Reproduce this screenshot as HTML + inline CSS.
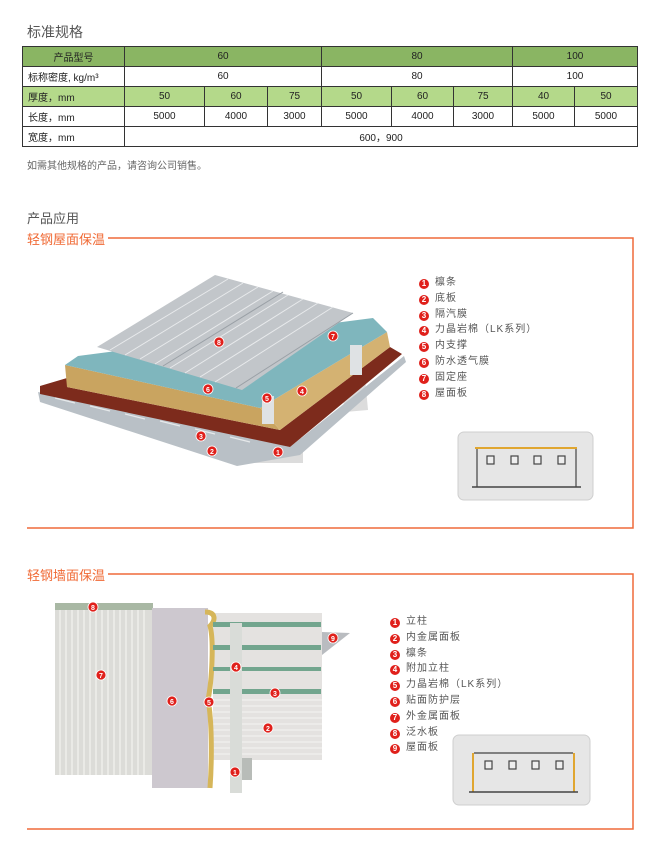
<!DOCTYPE html>
<html><head><meta charset="utf-8"><style>
body{margin:0;background:#fff;width:650px;height:846px;position:relative;overflow:hidden;font-family:"Liberation Sans","Noto Sans CJK SC",sans-serif;color:#555}
.a{position:absolute;white-space:nowrap}
table{position:absolute;left:22px;top:46px;border-collapse:collapse;font-size:10px;color:#222}
td{border:1px solid #333;height:19px;padding:0;text-align:center}
.g1 td{background:#8ab563}
.g2 td{background:#b4d98a}
td.l{text-align:left;padding-left:5px}
.leg{position:absolute;font-size:10px;color:#555;letter-spacing:1px;line-height:16px}
.leg div{height:15.8px}
.n{display:inline-block;width:10px;height:10px;border-radius:50%;background:#e0201b;color:#fff;font-size:8px;font-weight:bold;line-height:10px;text-align:center;letter-spacing:0;margin-right:6px;vertical-align:-1px}
</style></head><body>
<div class="a" style="left:27px;top:22px;font-size:14px;color:#555">标准规格</div>
<table>
<colgroup><col style="width:102px"><col style="width:80px"><col style="width:63px"><col style="width:54px"><col style="width:70px"><col style="width:62px"><col style="width:59px"><col style="width:62px"><col style="width:63px"></colgroup>
<tr class="g1"><td>产品型号</td><td colspan="3">60</td><td colspan="3">80</td><td colspan="2">100</td></tr>
<tr><td class="l">标称密度, kg/m³</td><td colspan="3">60</td><td colspan="3">80</td><td colspan="2">100</td></tr>
<tr class="g2"><td class="l">厚度，mm</td><td>50</td><td>60</td><td>75</td><td>50</td><td>60</td><td>75</td><td>40</td><td>50</td></tr>
<tr><td class="l">长度，mm</td><td>5000</td><td>4000</td><td>3000</td><td>5000</td><td>4000</td><td>3000</td><td>5000</td><td>5000</td></tr>
<tr><td class="l">宽度，mm</td><td colspan="8">600，900</td></tr>
</table>
<div class="a" style="left:27px;top:157px;font-size:10px;color:#666">如需其他规格的产品，请咨询公司销售。</div>
<div class="a" style="left:27px;top:208px;font-size:13px;color:#555">产品应用</div>
<div class="a" style="left:27px;top:229px;font-size:13px;color:#f06a35">轻钢屋面保温</div>
<div class="a" style="left:27px;top:565px;font-size:13px;color:#f06a35">轻钢墙面保温</div>

<svg class="a" style="left:0;top:0" width="650" height="846">
<g fill="none" stroke="#ef6a3a" stroke-width="1.5">
<polyline points="108,238 633,238 633,528 27,528"/>
<polyline points="108,574 633,574 633,829 27,829"/>
</g>
<!-- roof -->
<polygon points="250,438 303,438 303,463 250,463" fill="#dcdcdc"/>
<polygon points="340,380 365,378 368,410 345,412" fill="#dcdcdc"/>
<polygon points="38,392 290,447 404,356 406,362 300,455 237,466 40,402" fill="#b9c0c6"/>
<g stroke="#e6e8ea" stroke-width="1.2"><path d="M55 398L75 403M90 406L110 411M125 414L145 419M160 421L180 426M195 429L215 434M230 437L250 442"/></g>
<polygon points="40,386 67,378 67,387 280,430 390,347 402,354 290,447 40,394" fill="#7d2b1c"/>
<polygon points="65,365 260,408 280,430 67,387" fill="#c9a460"/>
<polygon points="260,408 387,332 390,347 280,430" fill="#d4b272"/>
<polygon points="65,365 78,356 373,318 387,332 260,408" fill="#7fb6bd"/>
<polygon points="97,347 215,275 353,313 242,390" fill="#c2c6ca"/>
<g stroke="#e8eaec" stroke-width="1"><line x1="110" y1="350" x2="228" y2="279"/><line x1="125" y1="355" x2="243" y2="283"/><line x1="140" y1="359" x2="258" y2="287"/><line x1="155" y1="364" x2="273" y2="291"/><line x1="170" y1="368" x2="288" y2="295"/><line x1="185" y1="373" x2="303" y2="299"/><line x1="200" y1="377" x2="318" y2="303"/><line x1="215" y1="382" x2="333" y2="307"/></g>
<g stroke="#9aa0a6"><line x1="163" y1="366" x2="283" y2="292"/><line x1="236" y1="388" x2="353" y2="313"/></g>
<rect x="262" y="396" width="12" height="28" fill="#dfe2e4"/><rect x="350" y="345" width="12" height="30" fill="#dfe2e4"/>
<rect x="458" y="432" width="135" height="68" rx="6" fill="#e6e6e6" stroke="#cfcfcf"/>
<line x1="475" y1="448" x2="577" y2="448" stroke="#e0a630" stroke-width="2"/>
<g stroke="#444" stroke-width="1.2" fill="#eee"><line x1="477" y1="449" x2="477" y2="487"/><line x1="576" y1="449" x2="576" y2="487"/><line x1="472" y1="487" x2="581" y2="487" stroke-width="1.5"/>
<rect x="487" y="456" width="7" height="8"/><rect x="511" y="456" width="7" height="8"/><rect x="534" y="456" width="7" height="8"/><rect x="558" y="456" width="7" height="8"/></g>
<!-- wall -->
<rect x="55" y="603" width="98" height="172" fill="#dcdcd8"/>
<g stroke="#f2f2f0" stroke-width="1.2"><path d="M60 610V775M66 610V775M72 610V775M78 610V775M84 610V775M90 610V775M96 610V775M102 610V775M108 610V775M114 610V775M120 610V775M126 610V775M132 610V775M138 610V775M144 610V775"/></g>
<rect x="55" y="603" width="98" height="7" fill="#a9b8a4"/>
<rect x="152" y="608" width="56" height="180" fill="#cdc8cf"/>
<rect x="213" y="613" width="109" height="147" fill="#e4e2e0"/>
<g stroke="#f4f4f2"><path d="M213 700H322M213 706H322M213 712H322M213 718H322M213 724H322M213 730H322M213 736H322M213 742H322M213 748H322M213 754H322"/></g>
<path d="M205 612C216 612 216 620 210 626C214 640 212 680 208 700C212 720 212 760 210 788" stroke="#d6b65a" stroke-width="5" fill="none"/>
<g fill="#72a58e"><rect x="213" y="622" width="108" height="5"/><rect x="213" y="645" width="108" height="5"/><rect x="213" y="667" width="108" height="4"/><rect x="213" y="689" width="108" height="5"/></g>
<rect x="230" y="623" width="12" height="170" fill="#d9dcd8"/><rect x="242" y="758" width="10" height="22" fill="#b8bcb8"/>
<polygon points="322,632 350,633 322,655" fill="#b9bcc0"/>
<rect x="453" y="735" width="137" height="70" rx="6" fill="#e6e6e6" stroke="#cfcfcf"/>
<g stroke="#e0a630" stroke-width="2"><line x1="473" y1="753" x2="473" y2="792"/><line x1="574" y1="753" x2="574" y2="792"/></g>
<g stroke="#444" stroke-width="1.2" fill="#eee"><line x1="474" y1="753" x2="573" y2="753"/><line x1="469" y1="792" x2="578" y2="792" stroke-width="1.5"/>
<rect x="485" y="761" width="7" height="8"/><rect x="509" y="761" width="7" height="8"/><rect x="532" y="761" width="7" height="8"/><rect x="556" y="761" width="7" height="8"/></g>
<g fill="#e0201b" stroke="#fff" stroke-width="0.8">
<circle cx="219" cy="342" r="5"/><circle cx="333" cy="336" r="5"/><circle cx="208" cy="389" r="5"/><circle cx="267" cy="398" r="5"/><circle cx="302" cy="391" r="5"/><circle cx="201" cy="436" r="5"/><circle cx="212" cy="451" r="5"/><circle cx="278" cy="452" r="5"/>
<circle cx="93" cy="607" r="5"/><circle cx="101" cy="675" r="5"/><circle cx="172" cy="701" r="5"/><circle cx="209" cy="702" r="5"/><circle cx="236" cy="667" r="5"/><circle cx="275" cy="693" r="5"/><circle cx="268" cy="728" r="5"/><circle cx="235" cy="772" r="5"/><circle cx="333" cy="638" r="5"/></g>
<g fill="#fff" font-size="7" font-weight="bold" text-anchor="middle" font-family="Liberation Sans">
<text x="219" y="345">8</text><text x="333" y="339">7</text><text x="208" y="392">6</text><text x="267" y="401">5</text><text x="302" y="394">4</text><text x="201" y="439">3</text><text x="212" y="454">2</text><text x="278" y="455">1</text>
<text x="93" y="610">8</text><text x="101" y="678">7</text><text x="172" y="704">6</text><text x="209" y="705">5</text><text x="236" y="670">4</text><text x="275" y="696">3</text><text x="268" y="731">2</text><text x="235" y="775">1</text><text x="333" y="641">9</text></g>
</svg>

<div class="leg" style="left:419px;top:275px">
<div><span class="n">1</span>檩条</div><div><span class="n">2</span>底板</div><div><span class="n">3</span>隔汽膜</div><div><span class="n">4</span>力晶岩棉（LK系列）</div><div><span class="n">5</span>内支撑</div><div><span class="n">6</span>防水透气膜</div><div><span class="n">7</span>固定座</div><div><span class="n">8</span>屋面板</div>
</div>
<div class="leg" style="left:390px;top:614px">
<div><span class="n">1</span>立柱</div><div><span class="n">2</span>内金属面板</div><div><span class="n">3</span>檩条</div><div><span class="n">4</span>附加立柱</div><div><span class="n">5</span>力晶岩棉（LK系列）</div><div><span class="n">6</span>贴面防护层</div><div><span class="n">7</span>外金属面板</div><div><span class="n">8</span>泛水板</div><div><span class="n">9</span>屋面板</div>
</div>
</body></html>
